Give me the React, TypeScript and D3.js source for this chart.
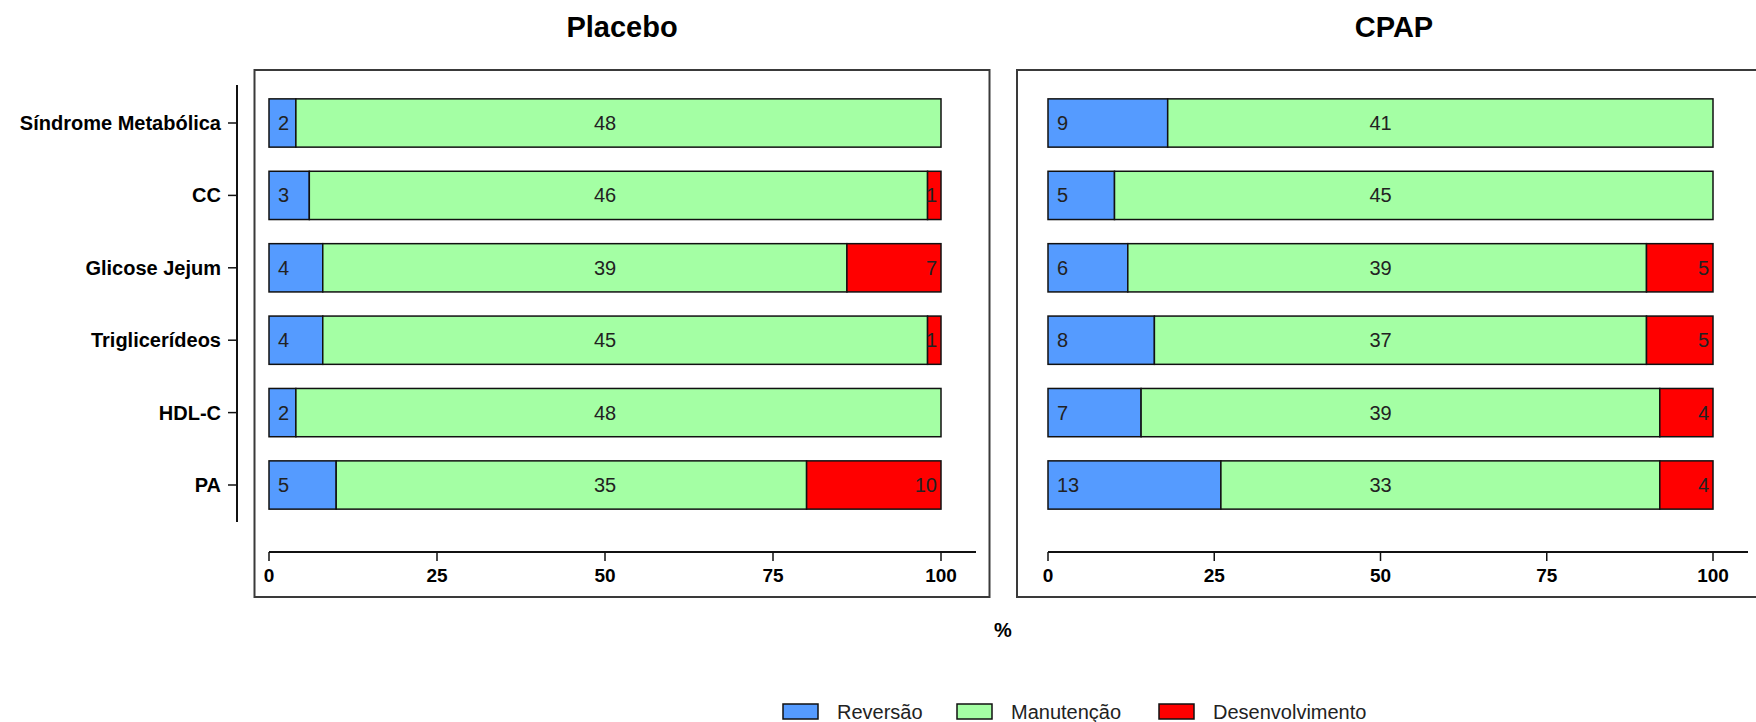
import React from "react";
import * as d3 from "d3";

const categories = ["Síndrome Metabólica", "CC", "Glicose Jejum", "Triglicerídeos", "HDL-C", "PA"];
const seriesNames = ["Reversão", "Manutenção", "Desenvolvimento"];
const seriesColors = ["#559BFF", "#A4FFA4", "#FF0000"];
const placeboReversao = [2, 3, 4, 4, 2, 5];
const placeboManutencao = [48, 46, 39, 45, 48, 35];
const placeboDesenvolvimento = [0, 1, 7, 1, 0, 10];
const cpapReversao = [9, 5, 6, 8, 7, 13];
const cpapManutencao = [41, 45, 39, 37, 39, 33];
const cpapDesenvolvimento = [0, 0, 5, 5, 4, 4];
const xTicks = [0, 25, 50, 75, 100];
const total = 50;

const FONT = "Liberation Sans, Arial, Helvetica, sans-serif";

type Panel = {
  title: string;
  series: number[][];
  box: [number, number];
  range: [number, number];
  axisEnd: number;
};

const panels: Panel[] = [
  { title: "Placebo", series: [placeboReversao, placeboManutencao, placeboDesenvolvimento], box: [254.5, 989.5], range: [269, 941], axisEnd: 976 },
  { title: "CPAP", series: [cpapReversao, cpapManutencao, cpapDesenvolvimento], box: [1017, 1771], range: [1048, 1713], axisEnd: 1748 },
];

const y = d3.scaleBand<string>().domain(categories).range([86.8, 521.2]).paddingInner(1 / 3).paddingOuter(1 / 6);

function PanelView({ p }: { p: Panel }) {
  const x = d3.scaleLinear().domain([0, 100]).range(p.range);
  const stack = d3.stack<number>().keys([0, 1, 2]).value((i, k) => (p.series[k as number][i] / total) * 100);
  const stacked = stack(categories.map((_, i) => i));
  const axisY = 552;
  const boxCenter = (p.box[0] + p.box[1]) / 2;
  return (
    <g>
      <text x={boxCenter} y={37} textAnchor="middle" fontFamily={FONT} fontWeight="bold" fontSize={29}>{p.title}</text>
      <rect x={p.box[0]} y={70} width={p.box[1] - p.box[0]} height={527} fill="none" stroke="#3a3a3a" strokeWidth={2} />
      {stacked.map((layer, k) =>
        layer.map((d, i) => {
          const v = p.series[k][i];
          if (v <= 0) return null;
          const cat = categories[i];
          const y0 = y(cat)!;
          return (
            <rect key={`${k}-${i}`} x={x(d[0])} y={y0} width={x(d[1]) - x(d[0])} height={y.bandwidth()} fill={seriesColors[k]} stroke="#111" strokeWidth={1.5} />
          );
        })
      )}
      {stacked.map((layer, k) =>
        layer.map((d, i) => {
          const v = p.series[k][i];
          if (v <= 0) return null;
          const cy = y(categories[i])! + y.bandwidth() / 2 + 7;
          let tx = x(50);
          let anchor: "start" | "middle" | "end" = "middle";
          if (k === 0) { tx = x(0) + 9; anchor = "start"; }
          if (k === 2) { tx = x(100) - 4; anchor = "end"; }
          return (
            <text key={`t${k}-${i}`} x={tx} y={cy} textAnchor={anchor} fontFamily={FONT} fontSize={20} fill="#222">{v}</text>
          );
        })
      )}
      <line x1={x(0)} x2={p.axisEnd} y1={axisY} y2={axisY} stroke="#111" strokeWidth={2} />
      {xTicks.map((t) => (
        <g key={t}>
          <line x1={x(t)} x2={x(t)} y1={axisY} y2={axisY + 9} stroke="#111" strokeWidth={1.5} />
          <text x={x(t)} y={582} textAnchor="middle" fontFamily={FONT} fontWeight="bold" fontSize={19}>{t}</text>
        </g>
      ))}
    </g>
  );
}

export default function App() {
  const legendX = [783, 957, 1159];
  return (
    <svg width={1756} height={722} style={{ position: "absolute", left: 0, top: 0, background: "#fff" }}>
      <rect x={0} y={0} width={1756} height={722} fill="#fff" />
      <line x1={237} x2={237} y1={85} y2={522} stroke="#111" strokeWidth={2} />
      {categories.map((c) => {
        const cy = y(c)! + y.bandwidth() / 2;
        return (
          <g key={c}>
            <line x1={228} x2={237} y1={cy} y2={cy} stroke="#111" strokeWidth={1.5} />
            <text x={221} y={cy + 7} textAnchor="end" fontFamily={FONT} fontWeight="bold" fontSize={20}>{c}</text>
          </g>
        );
      })}
      {panels.map((p) => <PanelView key={p.title} p={p} />)}
      <text x={1003} y={637} textAnchor="middle" fontFamily={FONT} fontWeight="bold" fontSize={20}>%</text>
      {seriesNames.map((s, i) => (
        <g key={s}>
          <rect x={legendX[i]} y={704} width={35} height={15} fill={seriesColors[i]} stroke="#111" strokeWidth={1.5} />
          <text x={legendX[i] + 54} y={719} fontFamily={FONT} fontSize={20} fill="#222">{s}</text>
        </g>
      ))}
    </svg>
  );
}
